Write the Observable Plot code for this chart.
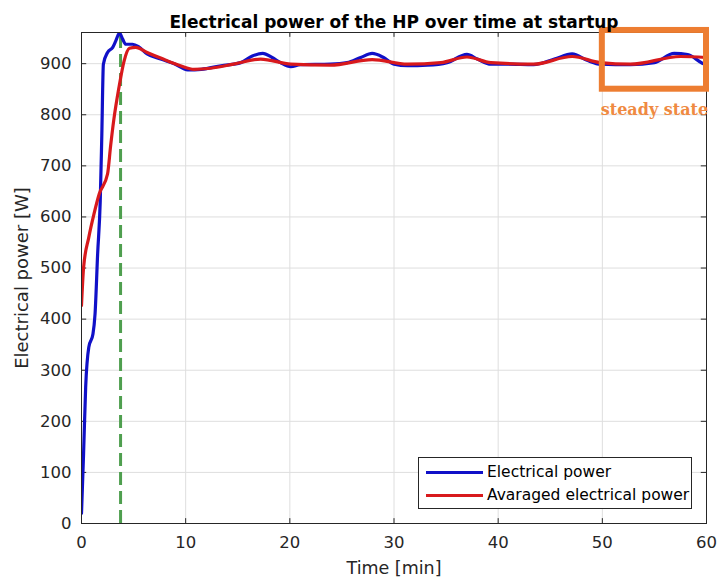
<!DOCTYPE html>
<html><head><meta charset="utf-8">
<script src="https://cdn.jsdelivr.net/npm/d3@7"></script>
<script src="https://cdn.jsdelivr.net/npm/@observablehq/plot@0.6"></script>
<style>
body{margin:0;background:#fff;}
#wrap{position:relative;width:719px;height:588px;}
#legend{position:absolute;left:418px;top:457px;width:274px;height:52px;border:1px solid #262626;background:#fff;box-sizing:border-box;font-family:"DejaVu Sans";font-size:15.5px;color:#000;}
.row{position:absolute;left:0;height:20px;width:100%;}
.sw{position:absolute;left:7px;width:57px;height:3px;}
.lb{position:absolute;left:68px;top:-9px;white-space:nowrap;line-height:20px;}
</style>
</head><body>
<div id="wrap"></div>
<script>
// ---- data ----
const titleText = "Electrical power of the HP over time at startup";
const xLabel = "Time [min]";
const yLabel = "Electrical power [W]";
const seriesNames = ["Electrical power", "Avaraged electrical power"];
const xTicks = [0, 10, 20, 30, 40, 50, 60];
const yTicks = [0, 100, 200, 300, 400, 500, 600, 700, 800, 900];

const powerT = [0, 0.2, 0.4, 0.7, 1.1, 1.3, 1.55, 1.8, 1.95, 2.1, 2.5, 3.0, 3.3, 3.65, 3.95, 4.25, 4.9, 5.5, 6.3, 7.6, 8.9, 10.2, 11.5, 13.4, 15.3, 16.4, 17.4, 18.3, 19.1, 20.1, 21.0, 23.9, 25.5, 26.8, 27.9, 29.0, 30.0, 31.3, 33.2, 35.1, 37.0, 38.0, 39.3, 40.9, 43.4, 45.4, 47.1, 48.6, 49.8, 52.7, 55.0, 56.9, 58.2, 59.6, 60];
const powerW = [20, 137, 267, 345, 371, 410, 528, 632, 760, 899, 922, 932, 945, 960, 948, 938, 938, 933, 919, 909, 900, 888, 889, 896, 902, 915, 920, 912, 902, 894, 898, 899, 902, 912, 920, 912, 899, 896, 897, 902, 918, 909, 899, 899, 898, 909, 919, 906, 899, 898, 902, 920, 918, 901, 898];

const avgT = [0, 0.2, 0.7, 1.2, 1.7, 2.5, 2.8, 3.1, 3.6, 4.1, 4.6, 5.2, 6.3, 7.6, 9.5, 10.8, 12.4, 14.6, 17.2, 20.1, 23.9, 27.9, 31.3, 34.5, 37.0, 39.3, 43.4, 47.1, 49.8, 52.7, 57.5, 60];
const avgW = [427, 501, 560, 606, 645, 684, 740, 790, 854, 906, 930, 932, 922, 911, 896, 889, 891, 899, 909, 899, 897, 908, 899, 902, 913, 902, 899, 914, 902, 899, 914, 912];

const startupT = [3.75];
const steadyBox = [{x1: 50, x2: 60, y1: 850, y2: 965}];
const steadyLabel = [{t: 55, w: 810, text: "steady state"}];

const colors = {power: "#1010c8", avg: "#d8191c", start: "#4f9f4f", steady: "#ED7D31"};

const power = powerT.map((t, i) => ({t, w: powerW[i]}));
const avg = avgT.map((t, i) => ({t, w: avgW[i]}));
const yMax = 961;

const chart = Plot.plot({
  width: 719, height: 588,
  marginLeft: 81, marginRight: 13, marginTop: 32, marginBottom: 65,
  x: {domain: [0, 60]},
  y: {domain: [0, yMax]},
  style: {fontFamily: "DejaVu Sans", fontSize: "16px", color: "#262626", background: "#fff"},
  marks: [
    Plot.gridX(xTicks, {stroke: "#dedede", strokeOpacity: 1}),
    Plot.gridY(yTicks, {stroke: "#dedede", strokeOpacity: 1}),
    Plot.axisX(xTicks, {tickSize: 0, tickPadding: 13, label: null, fontSize: 16.5}),
    Plot.axisY(yTicks, {tickSize: 0, tickPadding: 10, label: null, fontSize: 16.5}),
    Plot.ruleX(xTicks, {y1: 0, y2: 9.5, stroke: "#262626"}),
    Plot.ruleX(xTicks, {y1: yMax - 9.5, y2: yMax, stroke: "#262626"}),
    Plot.ruleY(yTicks, {x1: 0, x2: 0.5, stroke: "#262626"}),
    Plot.ruleY(yTicks, {x1: 59.5, x2: 60, stroke: "#262626"}),
    Plot.ruleX(startupT, {y1: 0, y2: yMax, stroke: colors.start, strokeWidth: 3, strokeDasharray: "13,6"}),
    Plot.line(power, {x: "t", y: "w", stroke: colors.power, strokeWidth: 3.2, curve: "monotone-x", clip: true}),
    Plot.line(avg, {x: "t", y: "w", stroke: colors.avg, strokeWidth: 3.2, curve: "monotone-x", clip: true}),
    Plot.frame({stroke: "#262626"}),
    Plot.rect(steadyBox, {x1: "x1", x2: "x2", y1: "y1", y2: "y2", fill: "none", stroke: colors.steady, strokeWidth: 6}),
    Plot.text(steadyLabel, {x: "t", y: "w", text: "text", fill: "#ef8a42", fontFamily: "DejaVu Serif", fontWeight: "bold", fontSize: 16}),
    Plot.text([titleText], {frameAnchor: "top", dy: -17, fontWeight: "bold", fontSize: 17, fill: "#000"}),
    Plot.text([xLabel], {frameAnchor: "bottom", dy: 50, fontSize: 17.5, fill: "#262626"}),
    Plot.text([yLabel], {frameAnchor: "left", dx: -59, rotate: -90, textAnchor: "middle", fontSize: 18, fill: "#262626"})
  ]
});
const wrap = document.getElementById("wrap");
wrap.appendChild(chart);

const legend = document.createElement("div");
legend.id = "legend";
const swColors = [colors.power, colors.avg];
const rowTops = [13, 36];
seriesNames.forEach((name, i) => {
  const row = document.createElement("div");
  row.className = "row";
  row.style.top = rowTops[i] + "px";
  const sw = document.createElement("div");
  sw.className = "sw";
  sw.style.background = swColors[i];
  const lb = document.createElement("div");
  lb.className = "lb";
  lb.textContent = name;
  row.appendChild(sw); row.appendChild(lb);
  legend.appendChild(row);
});
wrap.appendChild(legend);
</script>
</body></html>
